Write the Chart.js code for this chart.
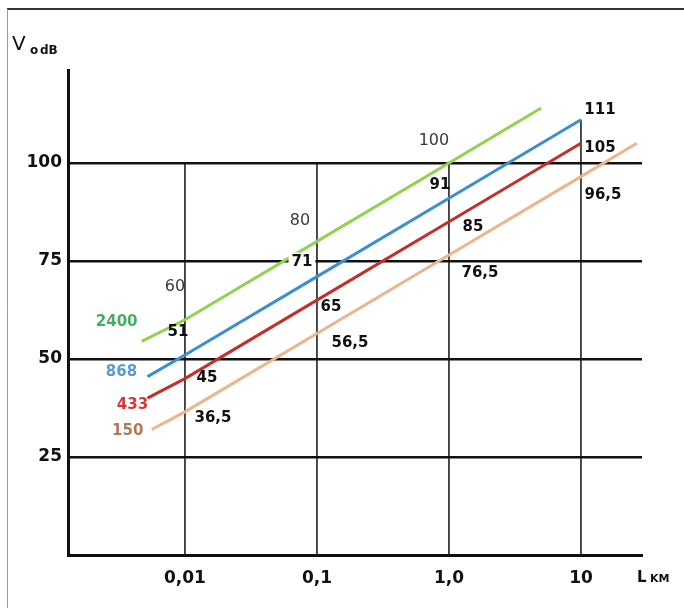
<!DOCTYPE html>
<html>
<head>
<meta charset="utf-8">
<script src="https://cdn.jsdelivr.net/npm/chart.js@4.4.1/dist/chart.umd.min.js"></script>
<style>
  html, body { margin: 0; padding: 0; background: #fff; }
  canvas { display: block; }
</style>
</head>
<body>
<canvas id="chart" width="684" height="608"></canvas>
<script>
// Distance axis (km, logarithmic) and level axis (dB)
const distanceTicks = [0.01, 0.1, 1, 10];
const distanceTickLabels = ['0,01', '0,1', '1,0', '10'];
const levelTicks = [25, 50, 75, 100];

// Frequency bands, MHz
const bandNames = ['2400', '868', '433', '150'];

// Level vs distance for each band
const dist2400 = [0.0047, 0.01, 0.1, 1, 5];
const level2400 = [54.5, 60, 80, 100, 114];
const dist868 = [0.0052, 0.01, 0.1, 1, 10];
const level868 = [45.5, 51, 71, 91, 111];
const dist433 = [0.0052, 0.01, 0.1, 1, 10];
const level433 = [40, 45, 65, 85, 105];
const dist150 = [0.0056, 0.01, 0.1, 1, 10, 26.5];
const level150 = [32, 36.5, 56.5, 76.5, 96.5, 105];

// Height reached by each vertical reference line
const guideTops = [100, 100, 100, 111];

const pts = (xs, ys) => xs.map((x, i) => ({ x, y: ys[i] }));

const bands = [
  { name: bandNames[0], xs: dist2400, ys: level2400, line: '#93d150', text: '#45ad63' },
  { name: bandNames[1], xs: dist868, ys: level868, line: '#3b8fd1', text: '#5a9ccb' },
  { name: bandNames[2], xs: dist433, ys: level433, line: '#c1302b', text: '#d3383a' },
  { name: bandNames[3], xs: dist150, ys: level150, line: '#ebb68d', text: '#b07a58' }
];

// Label placement (pixel offsets from the labelled point)
const valueLabelStyle = [
  { color: '#3a3a3a', font: '16px "DejaVu Sans"', offsets: [[-10, -33], [-17, -20], [-15, -22]] },
  { color: '#111', font: 'bold 15px "DejaVu Sans"', offsets: [[-7, -23], [-15, -15], [-9, -13], [19, -10]] },
  { color: '#111', font: 'bold 15px "DejaVu Sans"', offsets: [[22, 0], [14, 7], [24, 5], [19, 5]] },
  { color: '#111', font: 'bold 15px "DejaVu Sans"', offsets: [[28, 6], [33, 10], [31, 18], [22, 18]] }
];
const nameOffsets = [[-25, -19], [-26, -4], [-15, 7], [-24, 2]];
const boxedLabels = { '1-1': true };

const datasets = [];
bands.forEach(b => {
  datasets.push({
    data: pts(b.xs, b.ys),
    borderColor: b.line,
    borderWidth: 3,
    pointRadius: 0,
    tension: 0,
    order: 0
  });
});
distanceTicks.forEach((d, i) => {
  datasets.push({
    data: [{ x: d, y: 0 }, { x: d, y: guideTops[i] }],
    borderColor: '#111',
    borderWidth: 1.5,
    pointRadius: 0,
    order: 1
  });
});

const fmt = v => String(v).replace('.', ',');

const annotations = {
  id: 'annotations',
  beforeDraw(chart) {
    const ctx = chart.ctx;
    ctx.save();
    ctx.fillStyle = '#fff';
    ctx.fillRect(0, 0, chart.width, chart.height);
    ctx.strokeStyle = '#333';
    ctx.lineWidth = 2;
    ctx.beginPath();
    ctx.moveTo(7, 9);
    ctx.lineTo(chart.width, 9);
    ctx.stroke();
    ctx.strokeStyle = '#9a9a9a';
    ctx.lineWidth = 1;
    ctx.beginPath();
    ctx.moveTo(7.5, 9);
    ctx.lineTo(7.5, chart.height);
    ctx.stroke();
    ctx.restore();
  },
  afterDraw(chart) {
    const ctx = chart.ctx;
    const xs = chart.scales.x, ys = chart.scales.y;
    ctx.save();
    ctx.textAlign = 'center';
    ctx.textBaseline = 'middle';

    bands.forEach((b, si) => {
      const style = valueLabelStyle[si];
      style.offsets.forEach((off, k) => {
        const d = distanceTicks[k];
        const idx = b.xs.indexOf(d);
        const v = b.ys[idx];
        const px = xs.getPixelForValue(d) + off[0];
        const py = ys.getPixelForValue(v) + off[1];
        const txt = fmt(v);
        ctx.font = style.font;
        if (boxedLabels[si + '-' + k]) {
          const w = ctx.measureText(txt).width;
          ctx.fillStyle = '#fff';
          ctx.fillRect(px - w / 2 - 3, py - 9, w + 6, 18);
        }
        ctx.fillStyle = style.color;
        ctx.fillText(txt, px, py);
      });
      // band name at the start of its line
      const n = nameOffsets[si];
      ctx.font = 'bold 15px "DejaVu Sans"';
      ctx.fillStyle = b.text;
      ctx.fillText(b.name, xs.getPixelForValue(b.xs[0]) + n[0], ys.getPixelForValue(b.ys[0]) + n[1]);
    });

    // axis titles
    ctx.textAlign = 'left';
    ctx.textBaseline = 'alphabetic';
    ctx.fillStyle = '#111';
    ctx.font = '20px "DejaVu Sans"';
    ctx.fillText('V', 12, 50);
    ctx.font = 'bold 12px "DejaVu Sans"';
    ctx.fillText('o', 30, 54);
    ctx.fillText('dB', 40, 54);

    ctx.font = 'bold 15px "DejaVu Sans"';
    ctx.fillText('L', 637, 582);
    ctx.font = 'bold 11px "DejaVu Sans"';
    ctx.fillText('KM', 650, 582);
    ctx.restore();
  }
};

new Chart(document.getElementById('chart'), {
  type: 'line',
  data: { datasets },
  options: {
    responsive: false,
    animation: false,
    events: [],
    layout: { padding: { left: 0, top: 70, right: 42, bottom: 0 } },
    plugins: { legend: { display: false }, tooltip: { enabled: false } },
    scales: {
      x: {
        type: 'logarithmic',
        min: 0.0013,
        max: 29,
        afterBuildTicks: s => { s.ticks = distanceTicks.map(v => ({ value: v })); },
        afterFit: s => { s.height = 53; },
        ticks: {
          autoSkip: false,
          maxRotation: 0,
          padding: 5,
          color: '#111',
          font: { family: 'DejaVu Sans', size: 17, weight: 'bold' },
          callback: (v, i) => distanceTickLabels[i]
        },
        grid: { display: false },
        border: { display: true, color: '#111', width: 3 }
      },
      y: {
        type: 'linear',
        min: 0,
        max: 123.7,
        afterBuildTicks: s => { s.ticks = levelTicks.map(v => ({ value: v })); },
        afterFit: s => { s.width = 68; },
        ticks: {
          padding: 6,
          color: '#111',
          font: { family: 'DejaVu Sans', size: 17, weight: 'bold' }
        },
        grid: { color: '#111', lineWidth: 2.5, drawTicks: false },
        border: { display: true, color: '#111', width: 3 }
      }
    }
  },
  plugins: [annotations]
});
</script>
</body>
</html>
